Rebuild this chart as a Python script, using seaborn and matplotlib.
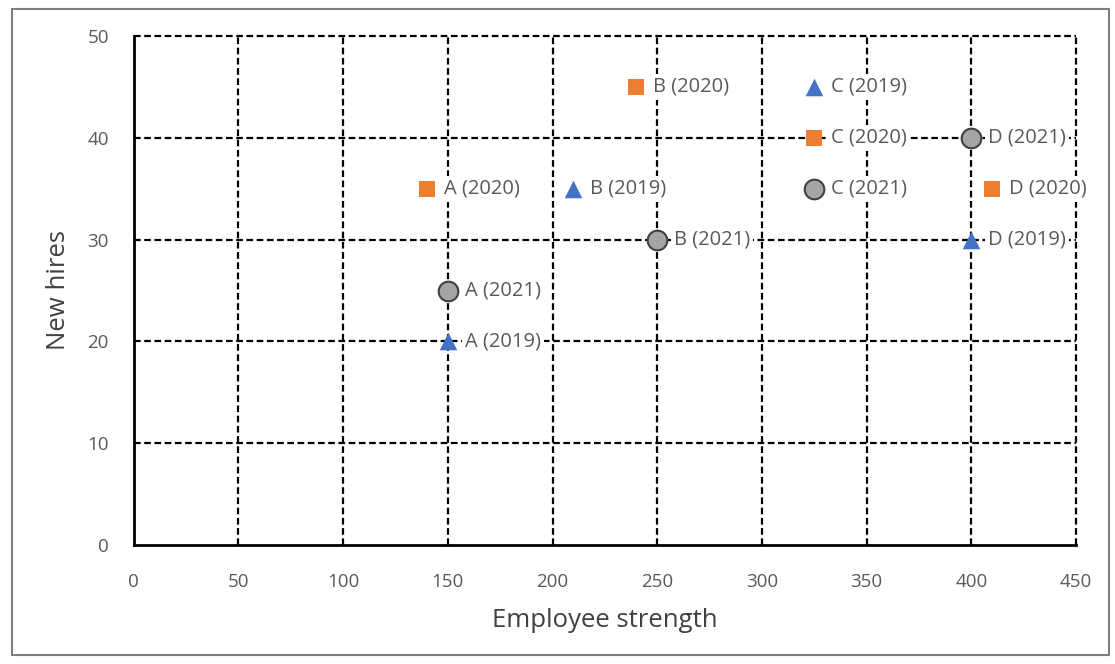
import pandas as pd
import matplotlib.pyplot as plt
import seaborn as sns
from matplotlib.patches import Rectangle

# данные
companies = ['A', 'B', 'C', 'D']
strength_2019 = [150, 210, 325, 400]
hires_2019 = [20, 35, 45, 30]
strength_2020 = [140, 240, 325, 410]
hires_2020 = [35, 45, 40, 35]
strength_2021 = [150, 250, 325, 400]
hires_2021 = [25, 30, 35, 40]

rows = []
for year, xs, ys in [('2019', strength_2019, hires_2019),
                     ('2020', strength_2020, hires_2020),
                     ('2021', strength_2021, hires_2021)]:
    for c, x, y in zip(companies, xs, ys):
        rows.append({'company': c, 'year': year, 'strength': x, 'hires': y,
                     'label': f'{c} ({year})'})
df = pd.DataFrame(rows)

sns.set_style('white')
plt.rcParams['font.family'] = ['Open Sans', 'DejaVu Sans']

fig = plt.figure(figsize=(11.15, 6.64), dpi=100)
ax = fig.add_axes([0.120, 0.179, 0.845, 0.767])

# рамка вокруг всей картинки
fig.patches.append(Rectangle((0.011, 0.014), 0.984, 0.972, transform=fig.transFigure,
                             fill=False, edgecolor='#7f7f7f', linewidth=1.5))

# сетка пунктиром (крайние линии не обрезаем)
dash = (0, (3, 1.6))
for v in range(50, 451, 50):
    ax.axvline(v, color='black', linestyle=dash, linewidth=1.6, zorder=1, clip_on=False)
for v in range(10, 51, 10):
    ax.axhline(v, color='black', linestyle=dash, linewidth=1.6, zorder=1, clip_on=False)

palette = {'2019': '#4472c4', '2020': '#ed7d31', '2021': '#a5a5a5'}
markers = {'2019': '^', '2020': 's', '2021': 'o'}
sizes = {'2019': 160, '2020': 140, '2021': 200}
edges = {'2019': '#4472c4', '2020': '#ed7d31', '2021': '#404040'}

for year in ['2019', '2020', '2021']:
    sub = df[df['year'] == year]
    sns.scatterplot(data=sub, x='strength', y='hires', color=palette[year],
                    marker=markers[year], s=sizes[year], edgecolor=edges[year],
                    linewidth=1.5 if year == '2021' else 0, ax=ax, zorder=3,
                    legend=False)

for _, r in df.iterrows():
    ax.annotate(r['label'], (r['strength'], r['hires']), xytext=(12, 0),
                textcoords='offset points', va='center', ha='left',
                fontsize=14.5, color='#595959', zorder=4,
                bbox=dict(boxstyle='square,pad=0.15', fc='white', ec='none'))

ax.set_xlim(0, 450)
ax.set_ylim(0, 50)
ax.set_xticks(range(0, 451, 50))
ax.set_yticks(range(0, 51, 10))
ax.tick_params(axis='both', labelsize=13.5, colors='#595959', length=0)
ax.tick_params(axis='x', pad=20)
ax.tick_params(axis='y', pad=18)
ax.set_xlabel('Employee strength', fontsize=18.5, color='#404040', labelpad=12)
ax.set_ylabel('New hires', fontsize=18.5, color='#404040', labelpad=12)

for side in ['top', 'right']:
    ax.spines[side].set_visible(False)
for side in ['left', 'bottom']:
    ax.spines[side].set_color('black')
    ax.spines[side].set_linewidth(2)
    ax.spines[side].set_zorder(2)

plt.savefig('out.png', dpi=100)
